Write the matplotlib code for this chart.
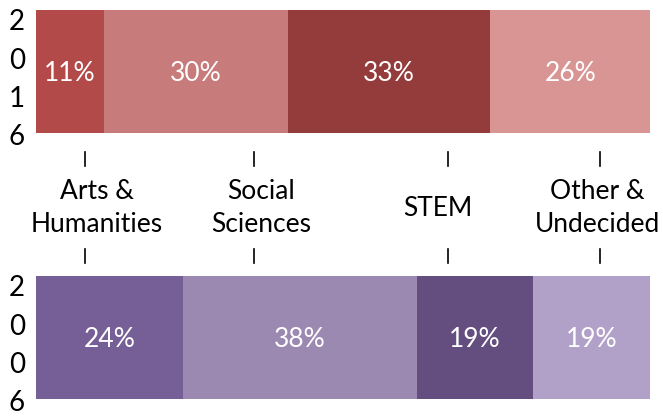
import numpy as np
import matplotlib
matplotlib.use("Agg")
import matplotlib.pyplot as plt

# data
categories = ["Arts &\nHumanities", "Social\nSciences", "STEM", "Other &\nUndecided"]
years = ["2016", "2006"]
share_2016 = [11, 30, 33, 26]
share_2006 = [24, 38, 19, 19]

colors_2016 = ["#B14A48", "#C87B7B", "#943B3B", "#D99593"]
colors_2006 = ["#765E96", "#9B89B2", "#634E7F", "#B1A0C7"]

W, H = 663, 417
fig = plt.figure(figsize=(W / 100, H / 100), dpi=100)
ax = fig.add_axes([0, 0, 1, 1])

# x in percent: 0 -> 36px, 100 -> 650px ; y in pixels
x0, scale = 36, 6.14
ax.set_xlim(-x0 / scale, (W - x0) / scale)
ax.set_ylim(H, 0)
ax.axis("off")

font = "Lato"
rows = [(share_2016, colors_2016, 71.5), (share_2006, colors_2006, 337.5)]
for vals, cols, yc in rows:
    left = np.concatenate([[0], np.cumsum(vals)[:-1]])
    ax.barh(yc, vals, left=left, height=123, color=cols, linewidth=0)
    for l, v in zip(left, vals):
        ax.text(l + v / 2, yc + 2, f"{v}%", color="white", fontsize=19,
                family=font, ha="center", va="center")

# vertical year labels
year_y = [(22, 61, 99, 137), (288, 327, 365, 403)]
for yr, ys in zip(years, year_y):
    for ch, y in zip(yr, ys):
        ax.text(-19 / scale, y, ch, fontsize=20, family=font,
                ha="center", va="center", color="black")

# category labels with tick marks (labels sit slightly off the ticks)
tick_x = [8.0, 35.5, 67.1, 91.9]
label_x = [9.9, 36.6, 65.5, 91.4]
for cat, tx, lx in zip(categories, tick_x, label_x):
    ax.plot([tx, tx], [152, 166], color="black", lw=1.2)
    ax.plot([tx, tx], [249, 263], color="black", lw=1.2)
    ax.text(lx, 208, cat, fontsize=19, family=font, ha="center",
            va="center", linespacing=1.4, color="black")

fig.savefig("out.png", dpi=100)
